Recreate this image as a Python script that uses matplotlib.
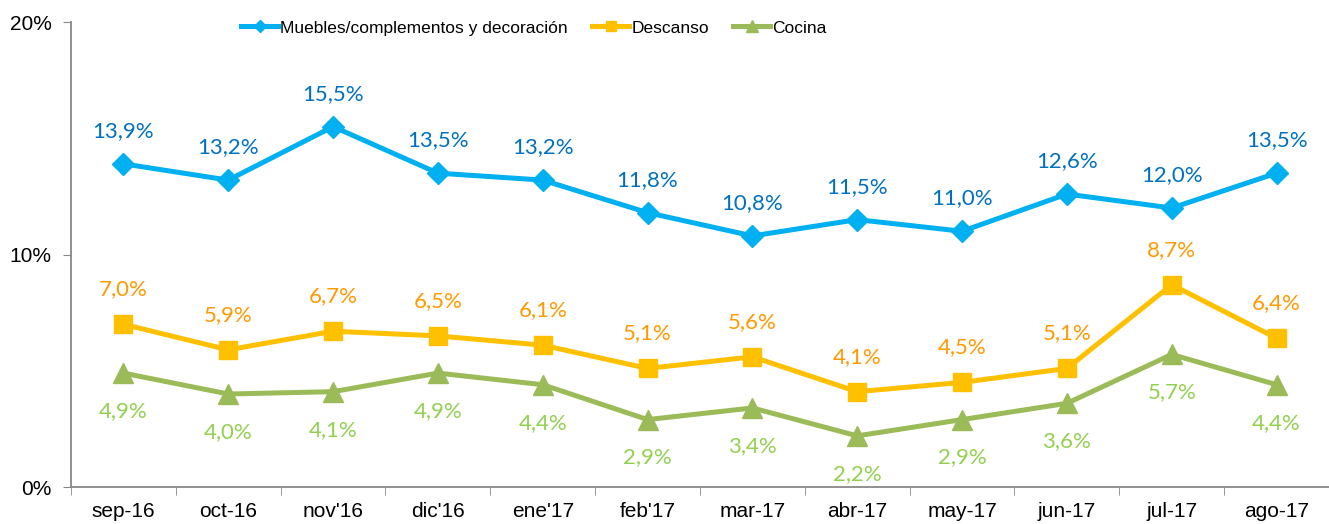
import matplotlib.pyplot as plt
from matplotlib.ticker import FuncFormatter

# months and the three series (percent)
meses = ["sep-16", "oct-16", "nov'16", "dic'16", "ene'17", "feb'17",
         "mar-17", "abr-17", "may-17", "jun-17", "jul-17", "ago-17"]
muebles = [13.9, 13.2, 15.5, 13.5, 13.2, 11.8, 10.8, 11.5, 11.0, 12.6, 12.0, 13.5]
descanso = [7.0, 5.9, 6.7, 6.5, 6.1, 5.1, 5.6, 4.1, 4.5, 5.1, 8.7, 6.4]
cocina = [4.9, 4.0, 4.1, 4.9, 4.4, 2.9, 3.4, 2.2, 2.9, 3.6, 5.7, 4.4]

series = [
    ("Muebles/complementos y decoración", muebles, "#00B0F0", "D", 11, "#0070C0", 33),
    ("Descanso", descanso, "#FFC000", "s", 13, "#FF9900", 35),
    ("Cocina", cocina, "#9BBB59", "^", 14, "#92D050", -38),
]

fig = plt.figure(figsize=(13.29, 5.24), dpi=100)
ax = fig.add_axes([0.0534, 0.0706, 0.9466, 0.8874])

x = list(range(len(meses)))
handles = []
for name, vals, col, mk, ms, lcol, off in series:
    h, = ax.plot(x, vals, color=col, lw=3.6, marker=mk, ms=ms, label=name)
    handles.append(h)
    for xi, v in zip(x, vals):
        ax.annotate(f"{v:.1f}%".replace(".", ","), (xi, v), xytext=(0, off),
                    textcoords="offset pixels", ha="center", va="center",
                    color=lcol, fontsize=16, family=["Lato", "DejaVu Sans"])

ax.set_xlim(-0.5, len(meses) - 0.5)
ax.set_ylim(0, 20)
ax.set_yticks([0, 10, 20])
ax.yaxis.set_major_formatter(FuncFormatter(lambda v, p: f"{v:.0f}%"))
ax.set_xticks(x)
ax.set_xticklabels(meses)
ax.set_xticks([i - 0.5 for i in range(len(meses) + 1)], minor=True)
ax.tick_params(axis="x", which="major", length=0, pad=11)
ax.tick_params(axis="x", which="minor", length=6, color="#888888")
ax.tick_params(axis="y", length=6, color="#888888", pad=8)
for lab in ax.get_xticklabels() + ax.get_yticklabels():
    lab.set_fontsize(15)
    lab.set_family(["Liberation Sans", "DejaVu Sans"])

for s in ["top", "right"]:
    ax.spines[s].set_visible(False)
for s in ["left", "bottom"]:
    ax.spines[s].set_color("#888888")
    ax.spines[s].set_linewidth(1.3)

leg = fig.legend(handles=handles, loc="center", bbox_to_anchor=(534 / 1329, 1 - 28 / 524),
                 ncol=3, frameon=False, handlelength=2.1, handletextpad=0.15,
                 columnspacing=1.4, markerscale=0.6,
                 prop={"family": ["Liberation Sans", "DejaVu Sans"], "size": 12.5})

fig.savefig("out.png", dpi=100)
